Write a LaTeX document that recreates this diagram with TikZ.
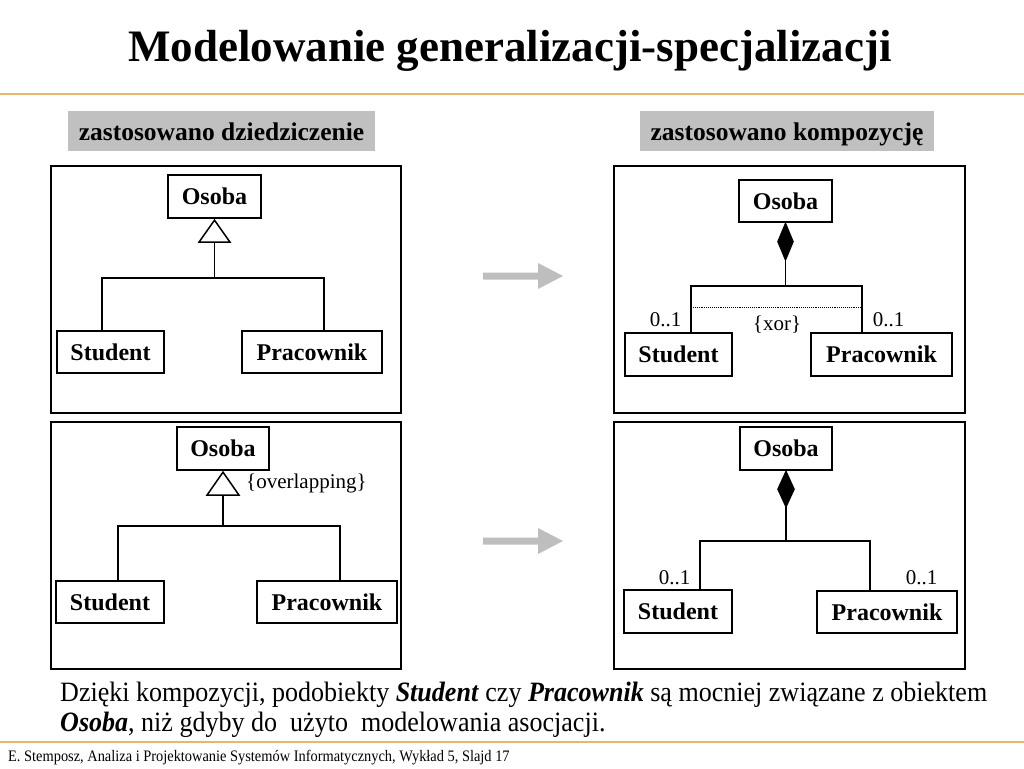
\documentclass[tikz,border=0pt]{standalone}
\usepackage{fontspec}
\usetikzlibrary{calc}
\setmainfont{Liberation Serif}
\newfontfamily\narrowfont[FakeStretch=0.9]{Liberation Serif}
\newfontfamily\bodyfont[FakeStretch=0.93]{Liberation Serif}
\definecolor{rule}{RGB}{232,184,104}
\definecolor{lblgray}{RGB}{192,192,192}
\definecolor{arrgray}{RGB}{190,190,190}
\tikzset{
  cls/.style={draw, line width=1.3pt, font=\bfseries\fontsize{24}{28}\selectfont, inner sep=0pt},
  panel/.style={draw, line width=1.4pt, inner sep=0pt},
  lbl/.style={fill=lblgray, font=\bfseries\fontsize{25.5}{28}\selectfont, inner sep=0pt, text height=24pt, text depth=6pt},
  conn/.style={line width=1.5pt},
  mult/.style={font=\fontsize{21}{24}\selectfont, inner sep=0pt},
  bigarrow/.style={fill=arrgray, draw=none},
  body/.style={anchor=base west, inner sep=0pt, font=\bodyfont\fontsize{28}{32}\selectfont}
}
\begin{document}
\begin{tikzpicture}[x=1pt,y=-1pt]
\useasboundingbox (0,0) rectangle (1024,768);
% title
\node[anchor=base, inner sep=0pt, font=\bfseries\fontsize{45}{50}\selectfont] (title) at (510,61) {Modelowanie generalizacji-specjalizacji};
\draw[rule, line width=1.5pt] (0,94) -- (1024,94);
\draw[rule, line width=1.5pt] (0,742) -- (1024,742);
% labels
\node[lbl, minimum width=307pt, minimum height=40pt] (lA) at (221.5,131) {zastosowano dziedziczenie};
\node[lbl, minimum width=294pt, minimum height=40pt] (lB) at (787,131) {zastosowano kompozycję};
% panels
\node[panel, minimum width=350pt, minimum height=247pt] (pA) at (226,289.5) {};
\node[panel, minimum width=351pt, minimum height=247pt] (pB) at (789.5,289.5) {};
\node[panel, minimum width=350pt, minimum height=247pt] (pC) at (226,545.5) {};
\node[panel, minimum width=351pt, minimum height=247pt] (pD) at (789.5,545.5) {};

% ---- panel A: inheritance
\node[cls, minimum width=93pt, minimum height=43pt] (o1) at (214.5,196.5) {Osoba};
\node[cls, minimum width=107pt, minimum height=42pt] (s1) at (110.5,352) {Student};
\node[cls, minimum width=140pt, minimum height=42pt] (p1) at (312,352) {Pracownik};
\draw[conn, fill=white] (o1.south) ++(0,1.5) coordinate (t1a) -- ++(-15.5,22) coordinate (t1l) -- ++(31,0) coordinate (t1r) -- cycle;
\coordinate (t1b) at ($(t1l)!0.5!(t1r)$);
\coordinate (j1) at (t1b |- 0,278);
\coordinate (j1l) at (102,278);
\coordinate (j1r) at (324,278);
\draw[conn] (t1b) -- (j1);
\draw[conn] (j1l |- s1.north) -- (j1l) -- (j1r) -- (j1r |- p1.north);

% ---- panel B: composition xor
\node[cls, minimum width=93pt, minimum height=42pt] (o2) at (785.5,201) {Osoba};
\node[cls, minimum width=107pt, minimum height=43pt] (s2) at (678.5,354.5) {Student};
\node[cls, minimum width=141pt, minimum height=43pt] (p2) at (881.5,354.5) {Pracownik};
\draw[conn, fill=black] (o2.south) ++(0,1) coordinate (d2t) -- ++(7.5,18) -- ++(-7.5,18) coordinate (d2b) -- ++(-7.5,-18) -- cycle;
\coordinate (j2) at (d2b |- 0,286);
\coordinate (j2l) at (691,286);
\coordinate (j2r) at (862,286);
\draw[conn] (d2b) -- (j2);
\draw[conn] (j2l |- s2.north) -- (j2l) -- (j2r) -- (j2r |- p2.north);
\draw[densely dotted, line width=0.9pt] (j2l |- 0,307) -- (j2r |- 0,307);
\node[mult] (m2l) at (665.5,320) {0..1};
\node[mult] (m2r) at (888.5,320) {0..1};
\node[mult] (xor) at (777,325) {\{xor\}};

% ---- panel C: inheritance overlapping
\node[cls, minimum width=92pt, minimum height=43pt] (o3) at (223,448.5) {Osoba};
\node[cls, minimum width=108pt, minimum height=42pt] (s3) at (110,602) {Student};
\node[cls, minimum width=140pt, minimum height=42pt] (p3) at (327,602) {Pracownik};
\draw[conn, fill=white] (o3.south) ++(0,1.5) coordinate (t3a) -- ++(-16,23) coordinate (t3l) -- ++(32,0) coordinate (t3r) -- cycle;
\coordinate (t3b) at ($(t3l)!0.5!(t3r)$);
\coordinate (j3) at (t3b |- 0,526);
\coordinate (j3l) at (118,526);
\coordinate (j3r) at (340,526);
\draw[conn] (t3b) -- (j3);
\draw[conn] (j3l |- s3.north) -- (j3l) -- (j3r) -- (j3r |- p3.north);
\node[mult, anchor=west] (ovl) at (246,483) {\{overlapping\}};

% ---- panel D: composition
\node[cls, minimum width=92pt, minimum height=43pt] (o4) at (786,448.5) {Osoba};
\node[cls, minimum width=108pt, minimum height=43pt] (s4) at (678,611.5) {Student};
\node[cls, minimum width=140pt, minimum height=42pt] (p4) at (887,612) {Pracownik};
\draw[conn, fill=black] (o4.south) ++(0,1) coordinate (d4t) -- ++(8,17.5) -- ++(-8,17.5) coordinate (d4b) -- ++(-8,-17.5) -- cycle;
\coordinate (j4) at (d4b |- 0,541);
\coordinate (j4l) at (700,541);
\coordinate (j4r) at (870,541);
\draw[conn] (d4b) -- (j4);
\draw[conn] (j4l |- s4.north) -- (j4l) -- (j4r) -- (j4r |- p4.north);
\node[mult] (m4l) at (674.5,578) {0..1};
\node[mult] (m4r) at (921.5,578) {0..1};

% ---- big arrows
\fill[bigarrow] (483,272.5) -- (538,272.5) -- (538,263) -- (563,276) -- (538,289) -- (538,279.5) -- (483,279.5) -- cycle;
\fill[bigarrow] (483,537.5) -- (538,537.5) -- (538,528) -- (563,541) -- (538,554) -- (538,544.5) -- (483,544.5) -- cycle;

% ---- bottom text
\node[body] (txt1) at (60,701) {Dzięki kompozycji, podobiekty \textbf{\textit{Student}} czy \textbf{\textit{Pracownik}} są mocniej związane z obiektem};
\node[body] (txt2) at (60,731) {\textbf{\textit{Osoba}}, niż gdyby do\ \ użyto\ \ modelowania asocjacji.};
\node[anchor=base west, inner sep=0pt, font=\narrowfont\fontsize{16}{18}\selectfont] (foot) at (8,761) {E. Stemposz, Analiza i Projektowanie Systemów Informatycznych, Wykład 5, Slajd 17};
\end{tikzpicture}
\end{document}
